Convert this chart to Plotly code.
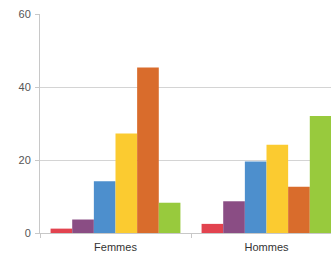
import plotly.graph_objects as go

categories = ["Femmes", "Hommes"]
series_names = ["S1", "S2", "S3", "S4", "S5", "S6"]
series_values = [
    [1.2, 2.5],
    [3.7, 8.7],
    [14.2, 19.6],
    [27.3, 24.2],
    [45.4, 12.7],
    [8.3, 32.1],
]
colors = ["#e2434f", "#8a4d84", "#4d8fcd", "#fbcb30", "#d96c2c", "#98ca3d"]
y_ticks = [0, 20, 40, 60]

fig = go.Figure()
for name, vals, col in zip(series_names, series_values, colors):
    fig.add_trace(go.Bar(x=categories, y=vals, name=name, marker=dict(color=col, line=dict(width=0))))

fig.update_layout(
    width=331, height=253,
    margin=dict(l=40, r=0, t=14, b=20, autoexpand=False),
    barmode="group", bargap=0.14, bargroupgap=0,
    showlegend=False,
    plot_bgcolor="white", paper_bgcolor="white",
    font=dict(family="Liberation Sans, Arial, sans-serif", size=11, color="#444"),
)
fig.update_xaxes(
    range=[-0.5, 0.5 + 140 / 151], showgrid=False,
    showline=True, linecolor="#c8c8c8", linewidth=1,
    ticks="outside", tickson="boundaries", ticklen=4, tickcolor="#c8c8c8",
    ticklabelstandoff=4,
    tickfont=dict(size=11, color="#333"), automargin=False,
)
fig.update_yaxes(
    range=[0, 60.05], tickvals=y_ticks, showgrid=True, gridcolor="#d4d4d4", gridwidth=1,
    showline=True, linecolor="#c8c8c8", linewidth=1, zeroline=False,
    ticks="outside", ticklen=4, tickcolor="#c8c8c8", ticklabelstandoff=2,
    tickfont=dict(size=11, color="#555"), automargin=False,
)
fig.write_html(
    "out.html",
    config={"displayModeBar": False},
    post_script="document.body.style.margin='0';document.body.style.overflow='hidden';",
)
